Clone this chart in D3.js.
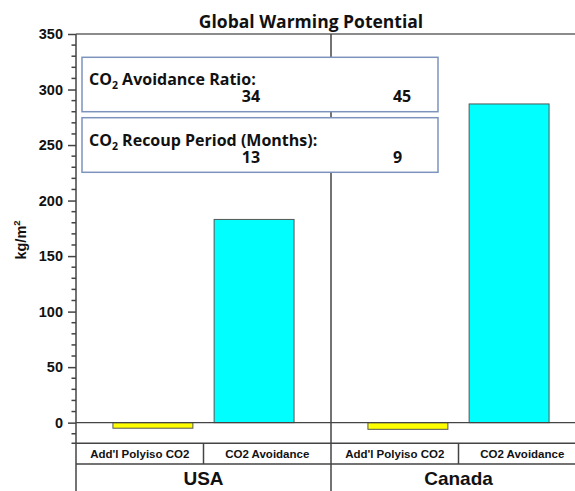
<!DOCTYPE html>
<html>
<head>
<meta charset="utf-8">
<script src="https://cdn.jsdelivr.net/npm/d3@7"></script>
<style>
  body { margin: 0; background: #fff; }
  text { fill: #111; }
</style>
</head>
<body>
<div id="chart"></div>
<script>
// data
const countries = ["USA", "Canada"];
const categories = ["Add'l Polyiso CO2", "CO2 Avoidance"];
const usaValues = [-5, 183];
const canadaValues = [-6, 287];
const ratioValues = [34, 45];
const recoupValues = [13, 9];
const yTicks = [0, 50, 100, 150, 200, 250, 300, 350];
const yMinorTicks = d3.range(-10, 351, 10).filter(v => v % 50 !== 0);

const W = 575, H = 491;
const plotLeft = 76, plotRight = 586, plotTop = 34, plotBottom = 443.3;
const axisCol = "#444";
const arial = "'Liberation Sans', Arial, sans-serif";
const calibri = "'Open Sans', Lato, sans-serif";

const svg = d3.select("#chart").append("svg").attr("width", W).attr("height", H);

const y = d3.scaleLinear().domain([-18.6, 350]).range([plotBottom, plotTop]);
const x0 = d3.scaleBand().domain(countries).range([plotLeft, plotRight]);
const x1 = d3.scaleBand().domain(categories).range([0, x0.bandwidth()])
    .paddingInner(0.21).paddingOuter(0.365);

const series = { "USA": usaValues, "Canada": canadaValues };
const bars = [];
countries.forEach(c => categories.forEach((k, i) => bars.push({ country: c, cat: k, value: series[c][i] })));

// y axis with major and minor ticks
const yAxis = svg.append("g").attr("transform", `translate(${plotLeft},0)`)
    .call(d3.axisLeft(y).tickValues(yTicks).tickSize(8).tickPadding(5).tickSizeOuter(0));
yAxis.select(".domain").remove();
yAxis.selectAll(".tick line").attr("stroke", axisCol).attr("stroke-width", 1.5);
yAxis.selectAll(".tick text").attr("font-family", arial).attr("font-weight", "bold")
    .attr("font-size", 14.5).attr("fill", "#222");
svg.append("g").selectAll("line").data(yMinorTicks).join("line")
    .attr("x1", plotLeft - 4.5).attr("x2", plotLeft)
    .attr("y1", d => y(d)).attr("y2", d => y(d))
    .attr("stroke", axisCol).attr("stroke-width", 1.5);

// bars
const colors = { "Add'l Polyiso CO2": "#ffff00", "CO2 Avoidance": "#00ffff" };
svg.append("g").selectAll("rect").data(bars).join("rect")
    .attr("x", d => x0(d.country) + x1(d.cat))
    .attr("width", x1.bandwidth())
    .attr("y", d => y(Math.max(0, d.value)))
    .attr("height", d => Math.abs(y(d.value) - y(0)))
    .attr("fill", d => colors[d.cat])
    .attr("stroke", "#555").attr("stroke-width", 1);

// zero line, frame and panel divider
svg.append("line").attr("x1", plotLeft).attr("x2", plotRight).attr("y1", y(0)).attr("y2", y(0))
    .attr("stroke", axisCol).attr("stroke-width", 1.2);
svg.append("line").attr("x1", plotLeft).attr("x2", plotRight).attr("y1", plotTop).attr("y2", plotTop)
    .attr("stroke", "#666").attr("stroke-width", 1.5);
svg.append("line").attr("x1", plotLeft).attr("x2", plotLeft).attr("y1", plotTop).attr("y2", H)
    .attr("stroke", axisCol).attr("stroke-width", 1.5);
svg.append("line").attr("x1", x0("Canada")).attr("x2", x0("Canada")).attr("y1", plotTop).attr("y2", H)
    .attr("stroke", axisCol).attr("stroke-width", 1.5);

// category label rows
const rowY = plotBottom + 20.7;
svg.append("line").attr("x1", plotLeft - 4.5).attr("x2", plotRight).attr("y1", plotBottom).attr("y2", plotBottom)
    .attr("stroke", axisCol).attr("stroke-width", 1.5);
svg.append("line").attr("x1", plotLeft).attr("x2", plotRight).attr("y1", rowY).attr("y2", rowY)
    .attr("stroke", axisCol).attr("stroke-width", 1.5);
svg.append("g").selectAll("line").data(countries).join("line")
    .attr("x1", d => x0(d) + x0.bandwidth() / 2).attr("x2", d => x0(d) + x0.bandwidth() / 2)
    .attr("y1", plotBottom).attr("y2", rowY)
    .attr("stroke", axisCol).attr("stroke-width", 1.5);
svg.append("g").selectAll("text").data(bars).join("text")
    .attr("x", d => x0(d.country) + x0.bandwidth() / 4 * (categories.indexOf(d.cat) * 2 + 1))
    .attr("y", plotBottom + 15)
    .attr("text-anchor", "middle")
    .attr("font-family", arial).attr("font-weight", "bold").attr("font-size", 11.5)
    .attr("fill", "#333")
    .text(d => d.cat);
svg.append("g").selectAll("text").data(countries).join("text")
    .attr("x", d => x0(d) + x0.bandwidth() / 2)
    .attr("y", 485)
    .attr("text-anchor", "middle")
    .attr("font-family", arial).attr("font-weight", "bold").attr("font-size", 19)
    .attr("fill", "#222")
    .text(d => d);

// title and y label
svg.append("text").attr("x", 311).attr("y", 28).attr("text-anchor", "middle")
    .attr("font-family", calibri).attr("font-weight", "bold").attr("font-size", 17.5)
    .text("Global Warming Potential");
const yl = svg.append("text").attr("transform", `translate(26,240) rotate(-90)`)
    .attr("text-anchor", "middle")
    .attr("font-family", arial).attr("font-weight", "bold").attr("font-size", 14.5);
yl.append("tspan").text("kg/m");
yl.append("tspan").attr("font-size", 9.5).attr("dy", -6).text("2");

// annotation boxes
const boxes = [
  { label: "Avoidance Ratio:", values: ratioValues, y0: 57.3, y1: 111.7 },
  { label: "Recoup Period (Months):", values: recoupValues, y0: 117.7, y1: 172.3 }
];
const numX = [x0("USA") + 0.65 * x0.bandwidth(), x0("Canada") + 0.243 * x0.bandwidth()];
boxes.forEach(b => {
  const g = svg.append("g");
  g.append("rect").attr("x", 82).attr("y", b.y0).attr("width", 356).attr("height", b.y1 - b.y0)
      .attr("fill", "#fff").attr("stroke", "#7d93bd").attr("stroke-width", 1.5);
  const t = g.append("text").attr("x", 89).attr("y", b.y0 + 28)
      .attr("font-family", calibri).attr("font-weight", "bold").attr("font-size", 16);
  t.append("tspan").text("CO");
  t.append("tspan").attr("font-size", 10.5).attr("dy", 4).text("2");
  t.append("tspan").attr("dy", -4).text(" " + b.label);
  g.selectAll("text.num").data(b.values).join("text").attr("class", "num")
      .attr("x", (d, i) => numX[i]).attr("y", b.y0 + 45)
      .attr("font-family", calibri).attr("font-weight", "bold").attr("font-size", 16)
      .text(d => d);
});
</script>
</body>
</html>
